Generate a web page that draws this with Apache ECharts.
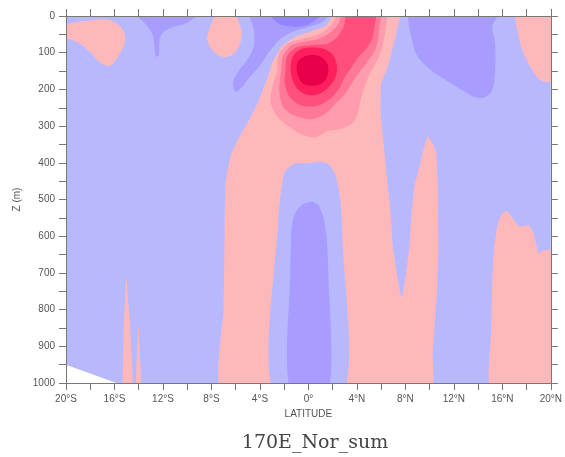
<!DOCTYPE html>
<html><head><meta charset="utf-8">
<script src="https://cdn.jsdelivr.net/npm/echarts@6/dist/echarts.min.js"></script>
<style>html,body{margin:0;padding:0;background:#fff}#c{width:565px;height:457px}</style>
</head><body><div id="c"></div>
<script>
// ---- tick labels ----
const xTickValues = [-20, -16, -12, -8, -4, 0, 4, 8, 12, 16, 20];
const xTickLabels = ['20°S', '16°S', '12°S', '8°S', '4°S', '0°', '4°N', '8°N', '12°N', '16°N', '20°N'];
const yTickValues = [0, 100, 200, 300, 400, 500, 600, 700, 800, 900, 1000];
const yTickLabels = ['0', '100', '200', '300', '400', '500', '600', '700', '800', '900', '1000'];

// ---- contour regions, points are [latitude, depth(m)] ----
const posTopLeftBlob = [[-20.5, 29], [-17.2, 9], [-16.1, 15], [-15.3, 38], [-15.1, 65], [-15.4, 93], [-16.1, 129], [-16.5, 136], [-17.1, 129], [-17.9, 102], [-18.9, 74], [-20.5, 52]];
const negTop13S = [[-14.2, -15], [-14.07, 0], [-13.25, 29], [-12.84, 52], [-12.7, 84], [-12.57, 111], [-12.35, 106], [-12.3, 74], [-12.16, 52], [-11.48, 34], [-10.1, 20], [-9.3, 0], [-9.2, -15]];
const posTop7S = [[-7.45, -10], [-6.25, -10], [-5.6, 29], [-5.52, 56], [-5.74, 84], [-6.29, 106], [-7.1, 111], [-7.93, 93], [-8.34, 65], [-8.2, 38]];
const negTop3S = [[-4.78, -15], [-4.5, 38], [-4.5, 84], [-5.06, 120], [-5.88, 156], [-6.23, 183], [-6.0, 207], [-5.5, 195], [-4.9, 168], [-4.0, 135], [-3.3, 100], [-2.3, 62], [-1.2, 42], [0.0, 30], [1.2, 15], [1.8, -15]];
const neg2Top1S = [[-3.3, -15], [-2.5, 20], [-1.1, 30], [0.1, 22], [1.3, -15]];
const negTop10N = [[8.47, -15], [8.6, 74], [9.02, 111], [10.1, 147], [12.0, 188], [13.66, 220], [14.5, 222], [15.16, 202], [15.4, 147], [15.4, 74], [15.16, 29], [15.7, -15]];
const posTop18N = [[17.2, -15], [17.35, 56], [17.76, 102], [18.3, 138], [18.99, 170], [19.5, 179], [20.5, 174], [20.5, -15]];
const posDeep17N = [[15.03, 1020], [15.1, 850], [15.16, 738], [15.3, 640], [15.45, 601], [15.6, 570], [15.98, 538], [16.4, 533], [16.94, 556], [17.3, 570], [17.62, 574], [18.17, 570], [18.58, 592], [18.99, 647], [19.4, 638], [19.8, 638], [20.5, 656], [20.5, 1020]];
const posArch = [[2.32, -15], [1.5, 25], [0.2, 42], [-1.0, 55], [-2.1, 80], [-2.95, 125], [-3.4, 170], [-4.1, 231], [-4.92, 285], [-5.7, 330], [-6.4, 380], [-6.85, 460], [-6.9, 580], [-7.0, 800], [-7.16, 1020],
  [10.1, 1020], [10.25, 920], [10.45, 828], [10.62, 738], [10.72, 629], [10.66, 447], [10.5, 365], [9.84, 329],
  [9.43, 374], [9.02, 429], [8.75, 465], [8.47, 556], [8.33, 629], [8.06, 701], [7.79, 756], [7.66, 766],
  [7.24, 692], [6.97, 629], [6.78, 538], [6.5, 447], [6.23, 356], [5.96, 265], [6.0, 183], [6.56, 138], [7.24, 47], [7.55, -15]];
const negUnderArch = [[-2.95, 1020], [-2.5, 560], [-2.3, 490], [-1.95, 425], [-1.1, 402], [0, 402], [0.8, 397], [1.6, 402], [2.2, 430], [2.6, 492], [2.8, 600], [2.95, 1020]];
const neg2UnderArch = [[-1.5, 1020], [-1.5, 700], [-1.37, 574], [-1.09, 538], [-0.55, 515], [0.27, 506], [0.82, 515], [1.23, 547], [1.5, 601], [1.64, 700], [1.64, 1020]];
const pos2Core = [[-2.6, 150], [-2.45, 105], [-1.7, 75], [-0.5, 62], [0.7, 52], [1.5, 36], [2.1, 15], [2.55, -15], [6.3, -15], [6.3, 49], [5.9, 104], [4.92, 167], [4.37, 222], [3.83, 285], [2.73, 308], [1.64, 313], [0.55, 331], [-0.55, 322], [-1.91, 294], [-2.73, 267], [-3.14, 231], [-2.95, 190]];
const pos3Core = [[-2.25, 150], [-2.1, 110], [-1.4, 80], [-0.3, 70], [0.9, 62], [1.8, 45], [2.5, 20], [2.85, -15], [5.9, -15], [5.85, 31], [5.6, 85], [4.92, 122], [4.1, 158], [3.55, 185], [3.0, 213], [2.19, 240], [1.37, 267], [0.27, 281], [-1.09, 272], [-2.05, 249], [-2.4, 205]];
const pos4Core = [[-1.9, 150], [-1.75, 110], [-1.0, 86], [0.3, 79], [1.5, 76], [2.3, 60], [2.9, 30], [3.3, -15], [5.47, -15], [5.45, 31], [5.2, 67], [4.65, 94], [4.1, 113], [3.55, 140], [3.0, 167], [2.6, 194], [1.91, 222], [0.82, 244], [-0.55, 244], [-1.5, 222], [-1.95, 185]];
const pos5Core = [[-1.45, 150], [-1.3, 112], [-0.6, 90], [0.4, 86], [1.3, 90], [2.0, 105], [2.32, 130], [2.3, 160], [1.78, 190], [0.82, 213], [-0.27, 213], [-1.1, 190]];
const pos6Core = [[-0.96, 150], [-0.82, 122], [-0.14, 108], [0.82, 108], [1.5, 126], [1.64, 153], [1.23, 181], [0.27, 190], [-0.55, 181]];
const posSpike15S = [[-15.38, 1020], [-15.3, 948], [-15.22, 828], [-15.03, 710], [-14.75, 828], [-14.56, 948], [-14.48, 1020]];
const posSpike14S = [[-14.26, 1020], [-14.15, 920], [-14.02, 842], [-13.9, 920], [-13.77, 1020]];
const missingBottom = [[-20.5, 944], [-15.85, 1000], [-15.85, 1030], [-20.5, 1030]];

// ---- level colours ----
const C = {
  neg1: '#B8B8FF', neg2: '#A89CFF', neg3: '#9385FF',
  pos1: '#FFB8BA', pos2: '#FF9CAD', pos3: '#FF7896', pos4: '#FF4F7C', pos5: '#FF1F5C', pos6: '#E8004B',
  missing: '#FFFFFF'
};

const layers = [
  [posTopLeftBlob, 'pos1', 0.35],
  [negTop13S, 'neg2', 0.3],
  [posTop7S, 'pos1', 0.35],
  [negTop3S, 'neg2', 0.3],
  [neg2Top1S, 'neg3', 0.3],
  [negTop10N, 'neg2', 0.3],
  [posTop18N, 'pos1', 0.3],
  [posDeep17N, 'pos1', 0.15],
  [posArch, 'pos1', 0.15],
  [negUnderArch, 'neg1', 0.25],
  [neg2UnderArch, 'neg2', 0.25],
  [pos2Core, 'pos2', 0.3],
  [pos3Core, 'pos3', 0.3],
  [pos4Core, 'pos4', 0.3],
  [pos5Core, 'pos5', 0.35],
  [pos6Core, 'pos6', 0.35],
  [posSpike15S, 'pos1', 0],
  [posSpike14S, 'pos1', 0],
  [missingBottom, 'missing', 0]
];

const axisColor = '#777';
const labelColor = '#555';
const fmtX = v => { const i = xTickValues.indexOf(v); return i >= 0 ? xTickLabels[i] : ''; };
const fmtY = v => { const i = yTickValues.indexOf(v); return i >= 0 ? yTickLabels[i] : ''; };

const baseX = {
  type: 'value', min: -20, max: 20, interval: 2, z: 10,
  axisLine: { show: true, onZero: false, lineStyle: { color: axisColor, width: 1 } },
  axisTick: { show: true, inside: false, length: 7, lineStyle: { color: axisColor } },
  splitLine: { show: false }
};
const baseY = {
  type: 'value', min: 0, max: 1000, interval: 50, inverse: true, z: 10,
  axisLine: { show: true, onZero: false, lineStyle: { color: axisColor, width: 1 } },
  axisTick: { show: true, inside: false, length: 7, lineStyle: { color: axisColor } },
  splitLine: { show: false }
};

const chart = echarts.init(document.getElementById('c'), null, { renderer: 'canvas' });
chart.setOption({
  animation: false,
  backgroundColor: '#fff',
  title: {
    text: '170E_Nor_sum', left: 310, top: 429, textAlign: 'center',
    textStyle: { fontFamily: 'DejaVu Serif', fontSize: 19, fontWeight: 'normal', color: '#444' }
  },
  grid: { left: 66, right: 11, top: 16, bottom: 74, show: true, backgroundColor: C.neg1, borderWidth: 0 },
  xAxis: [
    Object.assign({}, baseX, {
      position: 'bottom', name: 'LATITUDE', nameLocation: 'middle', nameGap: 25,
      nameTextStyle: { fontFamily: 'Liberation Sans', fontSize: 10, color: labelColor },
      axisLabel: { show: true, margin: 11, formatter: fmtX, fontFamily: 'Liberation Sans', fontSize: 10, color: labelColor, showMinLabel: true, showMaxLabel: true }
    }),
    Object.assign({}, baseX, { position: 'top', axisLabel: { show: false } })
  ],
  yAxis: [
    Object.assign({}, baseY, {
      position: 'left', name: 'Z (m)', nameLocation: 'middle', nameGap: 41, nameRotate: 90,
      nameTextStyle: { fontFamily: 'Liberation Sans', fontSize: 10, color: labelColor },
      axisLabel: { show: true, margin: 11, formatter: fmtY, fontFamily: 'Liberation Sans', fontSize: 10, color: labelColor, showMinLabel: true, showMaxLabel: true }
    }),
    Object.assign({}, baseY, { position: 'right', axisLabel: { show: false } })
  ],
  series: layers.map(([pts, level, sm]) => ({
    type: 'custom',
    coordinateSystem: 'cartesian2d',
    xAxisIndex: 0, yAxisIndex: 0,
    clip: true, silent: true,
    data: pts,
    renderItem: (params, api) => {
      if (params.dataIndex !== 0) return null;
      return {
        type: 'polygon',
        shape: { points: pts.map(p => api.coord(p)), smooth: sm },
        style: { fill: C[level], stroke: null }
      };
    }
  }))
});
</script>
</body></html>
